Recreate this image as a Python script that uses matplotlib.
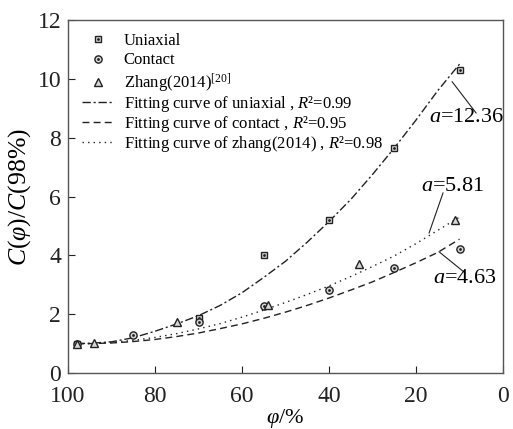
import matplotlib
matplotlib.use("Agg")
import matplotlib.pyplot as plt

plt.rcParams['font.family'] = ['Liberation Serif', 'DejaVu Serif']
plt.rcParams['mathtext.fontset'] = 'custom'
plt.rcParams['mathtext.rm'] = 'Liberation Serif'
plt.rcParams['mathtext.it'] = 'Liberation Serif:italic'

# measured data
uni_x = [98, 70, 55, 40, 25, 10]
uni_y = [1.0, 1.87, 4.02, 5.2, 7.65, 10.3]
con_x = [98, 85, 70, 55, 40, 25, 10]
con_y = [1.0, 1.3, 1.72, 2.27, 2.83, 3.58, 4.2]
zh_x = [98, 94, 75, 54, 33, 11]
zh_y = [1.0, 1.01, 1.73, 2.31, 3.7, 5.2]

# fitted curves
fit_x = [98, 95, 90, 85, 80, 75, 70, 65, 60, 55, 50, 45, 40, 35, 30, 25, 20, 15, 10]
fit_uni = [1.0, 1.01, 1.06, 1.2, 1.42, 1.67, 1.95, 2.3, 2.73, 3.25, 3.8, 4.45, 5.15, 5.9, 6.75, 7.65, 8.6, 9.6, 10.5]
fit_con = [1.0, 1.0, 1.02, 1.07, 1.14, 1.24, 1.36, 1.51, 1.67, 1.86, 2.07, 2.3, 2.55, 2.82, 3.1, 3.42, 3.75, 4.1, 4.55]
fit_zh = [1.0, 1.0, 1.04, 1.11, 1.21, 1.34, 1.5, 1.68, 1.9, 2.14, 2.4, 2.67, 2.96, 3.28, 3.62, 3.98, 4.4, 4.85, 5.3]

fig = plt.figure(figsize=(5.13, 4.29), dpi=100)
ax = fig.add_axes([0.1326, 0.1305, 0.848, 0.8229])

lc = '#222222'
l1, = ax.plot(fit_x, fit_uni, color=lc, lw=1.0, dashes=(6, 2, 1.5, 2))
l2, = ax.plot(fit_x, fit_con, color=lc, lw=1.0, dashes=(5, 3))
l3, = ax.plot(fit_x, fit_zh, color=lc, lw=1.0, dashes=(1, 3))

mfc = '#d8d8d8'
s1, = ax.plot(uni_x, uni_y, ls='none', marker='s', ms=4.6, mfc=mfc, mec=lc, mew=1.0)
d1, = ax.plot(uni_x, uni_y, ls='none', marker='.', ms=2.0, color=lc)
s2, = ax.plot(con_x, con_y, ls='none', marker='o', ms=5.2, mfc=mfc, mec=lc, mew=1.0)
d2, = ax.plot(con_x, con_y, ls='none', marker='.', ms=2.0, color=lc)
s3, = ax.plot(zh_x, zh_y, ls='none', marker='^', ms=5.4, mfc=mfc, mec=lc, mew=1.0)

leg1 = ax.legend([(s1, d1), (s2, d2), s3],
                 ['Uniaxial', 'Contact', r'Zhang(2014)$^{[20]}$'],
                 loc='upper left', frameon=False, fontsize=12,
                 handlelength=1.95, labelspacing=0.2, handletextpad=0.55,
                 bbox_to_anchor=(0.032, 0.963), borderaxespad=0, borderpad=0)
ax.add_artist(leg1)
leg2 = ax.legend([l1, l2, l3],
                 ['Fitting curve of uniaxial , $R$²=0.99',
                  'Fitting curve of contact , $R$²=0.95',
                  'Fitting curve of zhang(2014) , $R$²=0.98'],
                 loc='upper left', frameon=False, fontsize=12,
                 handlelength=1.95, labelspacing=0.0, handletextpad=0.55,
                 bbox_to_anchor=(0.032, 0.79), borderaxespad=0, borderpad=0)

# annotations
ax.text(8.3, 8.7, r'$a$=12.36', fontsize=16, ha='center', va='center')
ax.plot([11.7, 6.2], [9.9, 8.84], color=lc, lw=0.8)
ax.text(11.5, 6.33, r'$a$=5.81', fontsize=16, ha='center', va='center')
ax.plot([13.8, 17.0], [6.12, 4.76], color=lc, lw=0.8)
ax.text(8.7, 3.2, r'$a$=4.63', fontsize=16, ha='center', va='center')
ax.plot([14.7, 8.7], [4.12, 3.4], color=lc, lw=0.8)

ax.set_xlim(100, 0)
ax.set_ylim(0, 12)
ax.set_xticks([100, 80, 60, 40, 20, 0])
ax.set_yticks([0, 2, 4, 6, 8, 10, 12])
ax.tick_params(direction='in', length=5, width=0.8, labelsize=17, colors=lc)
ax.tick_params(axis='x', pad=9)
ax.tick_params(axis='y', pad=5)
for sp in ax.spines.values():
    sp.set_color('#555555')
    sp.set_linewidth(1.0)

ax.set_xlabel(r'$\varphi$/%', fontsize=16, labelpad=0)
ax.set_ylabel(r'$C$($\varphi$)/$C$(98%)', fontsize=18.5, labelpad=3)

fig.savefig('out.png', dpi=100)
